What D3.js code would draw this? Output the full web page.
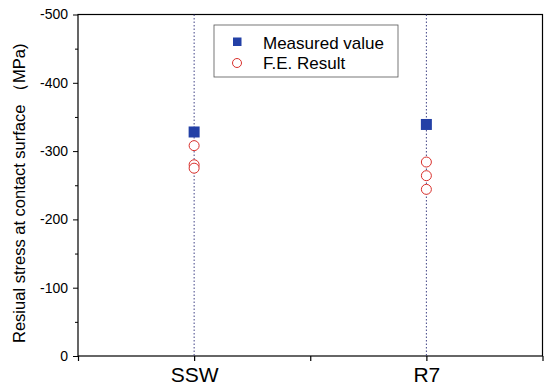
<!DOCTYPE html>
<html>
<head>
<meta charset="utf-8">
<script src="https://cdn.jsdelivr.net/npm/d3@7"></script>
<style>
  html, body { margin: 0; padding: 0; background: #fff; }
  svg { display: block; font-family: "Liberation Sans", Arial, sans-serif; }
</style>
</head>
<body>
<svg id="chart" width="545" height="390"></svg>
<script>
// Specimen categories and their positions on the x axis
const categories = ["SSW", "R7"];
const categoryPos = [1, 3];
// Residual stress at the contact surface (MPa)
const measured = [-328, -339];
const feResult = [
  [-308, -280, -275],
  [-284, -264, -244]
];
const yTicks = [0, -100, -200, -300, -400, -500];
const yMinorTicks = [-50, -150, -250, -350, -450];
const xTicks = [0, 1, 2, 3, 4];
const legendLabels = ["Measured value", "F.E. Result"];

const svg = d3.select("#chart");
const m = { left: 78, right: 542.5, top: 14.5, bottom: 356 };

const x = d3.scaleLinear().domain([0, 4]).range([m.left, m.right]);
const y = d3.scaleLinear().domain([0, -500]).range([m.bottom, m.top]);

const blue = "#2340a6";
const red = "#d9302c";

// Plot frame
svg.append("rect")
  .attr("x", m.left).attr("y", m.top)
  .attr("width", m.right - m.left).attr("height", m.bottom - m.top)
  .attr("fill", "none").attr("stroke", "#000").attr("stroke-width", 1.2);

// Dotted guide lines through each category
svg.selectAll("line.guide").data(categoryPos).enter().append("line")
  .attr("class", "guide")
  .attr("x1", d => x(d)).attr("x2", d => x(d))
  .attr("y1", m.top).attr("y2", m.bottom)
  .attr("stroke", "#2a2e78").attr("stroke-width", 0.9)
  .attr("stroke-dasharray", "1.5,2");

// Left axis
const yAxis = d3.axisLeft(y).tickValues(yTicks).tickSize(5).tickPadding(5)
  .tickFormat(d => d === 0 ? "0" : "-" + Math.abs(d));
const gy = svg.append("g").attr("transform", `translate(${m.left},0)`).call(yAxis);
gy.select(".domain").remove();
gy.selectAll("text").attr("font-size", 14).attr("fill", "#000")
  .attr("font-family", "Liberation Sans, Arial, sans-serif");
gy.selectAll("line").attr("stroke", "#000");
svg.append("g").attr("transform", `translate(${m.left},0)`)
  .call(d3.axisLeft(y).tickValues(yMinorTicks).tickSize(3).tickFormat(""))
  .call(g => g.select(".domain").remove())
  .selectAll("line").attr("stroke", "#000");

// Bottom axis
const xAxis = d3.axisBottom(x).tickValues(xTicks).tickSize(5).tickPadding(6)
  .tickFormat(d => {
    const i = categoryPos.indexOf(d);
    return i >= 0 ? categories[i] : "";
  });
const gx = svg.append("g").attr("transform", `translate(0,${m.bottom})`).call(xAxis);
gx.select(".domain").remove();
gx.selectAll("text").attr("font-size", 21).attr("fill", "#000")
  .attr("font-family", "Liberation Sans, Arial, sans-serif");
gx.selectAll("line").attr("stroke", "#000").attr("stroke-width", 1.2);

// Y axis title
svg.append("text")
  .attr("transform", `translate(25,${(m.top + m.bottom) / 2 + 8}) rotate(-90)`)
  .attr("text-anchor", "middle")
  .attr("font-size", 16.5)
  .attr("fill", "#000")
  .text("Resiual stress at contact surface （MPa)");

// F.E. results
const feFlat = feResult.flatMap((vals, i) => vals.map(v => ({ pos: categoryPos[i], v })));
svg.selectAll("circle.fe").data(feFlat).enter().append("circle")
  .attr("class", "fe")
  .attr("cx", d => x(d.pos)).attr("cy", d => y(d.v))
  .attr("r", 5)
  .attr("fill", "#fff").attr("stroke", red).attr("stroke-width", 1);

// Measured values
const sq = 11;
svg.selectAll("rect.meas").data(measured).enter().append("rect")
  .attr("class", "meas")
  .attr("x", (d, i) => x(categoryPos[i]) - sq / 2)
  .attr("y", d => y(d) - sq / 2)
  .attr("width", sq).attr("height", sq)
  .attr("fill", blue);

// Legend
const lg = svg.append("g");
lg.append("rect")
  .attr("x", 214).attr("y", 25).attr("width", 184).attr("height", 52)
  .attr("fill", "#fff").attr("stroke", "#555").attr("stroke-width", 0.8);
lg.append("rect").attr("x", 233).attr("y", 37.5).attr("width", 8.5).attr("height", 8.5).attr("fill", blue);
lg.append("circle").attr("cx", 237).attr("cy", 63).attr("r", 4.5)
  .attr("fill", "#fff").attr("stroke", red).attr("stroke-width", 1);
lg.selectAll("text").data(legendLabels).enter().append("text")
  .attr("x", 263).attr("y", (d, i) => 48.5 + i * 20.5)
  .attr("font-size", 17).attr("fill", "#000")
  .text(d => d);
</script>
</body>
</html>
